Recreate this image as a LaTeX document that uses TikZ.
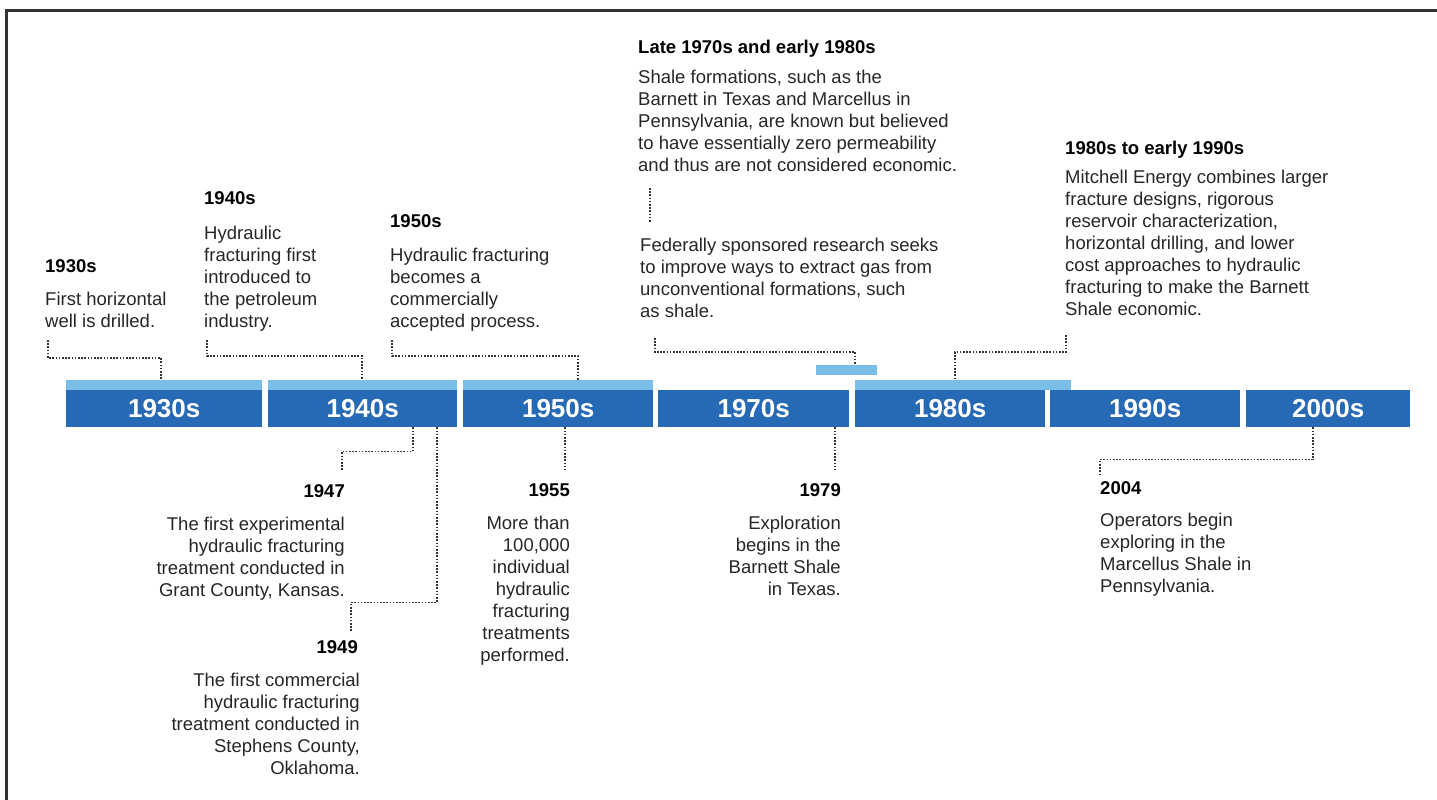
\documentclass[tikz,border=0pt]{standalone}
\usepackage{fontspec}
\setmainfont{Liberation Sans}

\definecolor{decadeblue}{RGB}{38,105,180}
\definecolor{stripblue}{RGB}{122,190,232}

\tikzset{
  decade/.style={fill=decadeblue, text=white, inner sep=0, minimum height=37,
    font=\fontsize{26}{28}\selectfont\bfseries},
  strip/.style={fill=stripblue, inner sep=0, minimum height=10},
  year/.style={inner sep=0, font=\fontsize{18.5}{22}\selectfont\bfseries},
  note/.style={inner sep=0, text=black!85, font=\fontsize{18.5}{22}\selectfont},
  dots/.style={draw=black!80, line width=1.6pt, dash pattern=on 1.6pt off 1.6pt},
}

\begin{document}
\begin{tikzpicture}[x=1pt, y=-1pt]
  \useasboundingbox (0,0) rectangle (1437,800);
  \draw[line width=2.2pt, black!80] (6.5,800) -- (6.5,10.5) -- (1437,10.5);

  % decades
  \node[decade, anchor=north west, minimum width=196] (d30) at (66,390) {1930s};
  \node[decade, anchor=north west, minimum width=189] (d40) at (268,390) {1940s};
  \node[decade, anchor=north west, minimum width=190] (d50) at (463,390) {1950s};
  \node[decade, anchor=north west, minimum width=191] (d70) at (658,390) {1970s};
  \node[decade, anchor=north west, minimum width=190] (d80) at (855,390) {1980s};
  \node[decade, anchor=north west, minimum width=190] (d90) at (1050,390) {1990s};
  \node[decade, anchor=north west, minimum width=164] (d00) at (1246,390) {2000s};

  \node[strip, anchor=south west, minimum width=196] (l30) at (66,390) {};
  \node[strip, anchor=south west, minimum width=189] (l40) at (268,390) {};
  \node[strip, anchor=south west, minimum width=190] (l50) at (463,390) {};
  \node[strip, anchor=south west, minimum width=216] (l80) at (855,390) {};
  \node[strip, anchor=north west, minimum width=61] (s79) at (816,365) {};

  % above the bar (notes sit on their last line)
  \node[year, anchor=base west] (y30) at (45,272) {1930s};
  \node[note, anchor=base west, align=left] (n30) at (45,327)
    {First horizontal\\well is drilled.};

  \node[year, anchor=base west] (y40) at (204,204) {1940s};
  \node[note, anchor=base west, align=left] (n40) at (204,327)
    {Hydraulic\\fracturing first\\introduced to\\the petroleum\\industry.};

  \node[year, anchor=base west] (y50) at (390,227) {1950s};
  \node[note, anchor=base west, align=left] (n50) at (390,327)
    {Hydraulic fracturing\\becomes a\\commercially\\accepted process.};

  \node[year, anchor=base west] (y70) at (638,54) {Late 1970s and early 1980s};
  \node[note, anchor=base west, align=left] (n70) at (638,171)
    {Shale formations, such as the\\Barnett in Texas and Marcellus in\\Pennsylvania, are known but believed\\to have essentially zero permeability\\and thus are not considered economic.};
  \node[note, anchor=base west, align=left] (n75) at (640,317)
    {Federally sponsored research seeks\\to improve ways to extract gas from\\unconventional formations, such\\as shale.};

  \node[year, anchor=base west] (y80) at (1065,154) {1980s to early 1990s};
  \node[note, anchor=base west, align=left] (n80) at (1065,315)
    {Mitchell Energy combines larger\\fracture designs, rigorous\\reservoir characterization,\\horizontal drilling, and lower\\cost approaches to hydraulic\\fracturing to make the Barnett\\Shale economic.};

  % below the bar
  \node[year, anchor=base east] (y47) at (345,497) {1947};
  \node[note, anchor=base east, align=right] (n47) at (345,596)
    {The first experimental\\hydraulic fracturing\\treatment conducted in\\Grant County, Kansas.};

  \node[year, anchor=base east] (y49) at (358,653) {1949};
  \node[note, anchor=base east, align=right] (n49) at (360,774)
    {The first commercial\\hydraulic fracturing\\treatment conducted in\\Stephens County,\\Oklahoma.};

  \node[year, anchor=base east] (y55) at (570,496) {1955};
  \node[note, anchor=base east, align=right] (n55) at (570,661)
    {More than\\100,000\\individual\\hydraulic\\fracturing\\treatments\\performed.};

  \node[year, anchor=base east] (y79) at (841,496) {1979};
  \node[note, anchor=base east, align=right] (n79) at (841,595)
    {Exploration\\begins in the\\Barnett Shale\\in Texas.};

  \node[year, anchor=base west] (y04) at (1100,494) {2004};
  \node[note, anchor=base west, align=left] (n04) at (1100,592)
    {Operators begin\\exploring in the\\Marcellus Shale in\\Pennsylvania.};

  % leaders
  \coordinate (c30) at (48,340);
  \coordinate (c40) at (207,340);
  \coordinate (c50) at (392,340);
  \coordinate (c70a) at (650,188);
  \coordinate (c70b) at (650,222);
  \coordinate (c75) at (655,338);
  \coordinate (c80) at (1066,335);
  \coordinate (e47) at (342,470);
  \coordinate (e49) at (351,632);
  \coordinate (e55) at (565,470);
  \coordinate (e79) at (835,470);
  \coordinate (e04) at (1100,475);

  \draw[dots] (c30) -- ++(0,18) -| ([xshift=95]l30.north west);
  \draw[dots] (c40) -- ++(0,16) -| ([xshift=94]l40.north west);
  \draw[dots] (c50) -- ++(0,16) -| ([xshift=115]l50.north west);
  \draw[dots] (c70a) -- (c70b);
  \draw[dots] (c75) -- ++(0,14) -| ([xshift=39]s79.north west);
  \draw[dots] (c80) -- ++(0,17) -| ([xshift=100]l80.north west);

  \draw[dots] ([xshift=145]d40.south west) -- ++(0,24) -| (e47);
  \draw[dots] ([xshift=169]d40.south west) -- ++(0,175) -| (e49);
  \draw[dots] ([xshift=102]d50.south west) -- (e55);
  \draw[dots] ([xshift=177]d70.south west) -- (e79);
  \draw[dots] ([xshift=67]d00.south west) -- ++(0,32) -| (e04);
\end{tikzpicture}
\end{document}
